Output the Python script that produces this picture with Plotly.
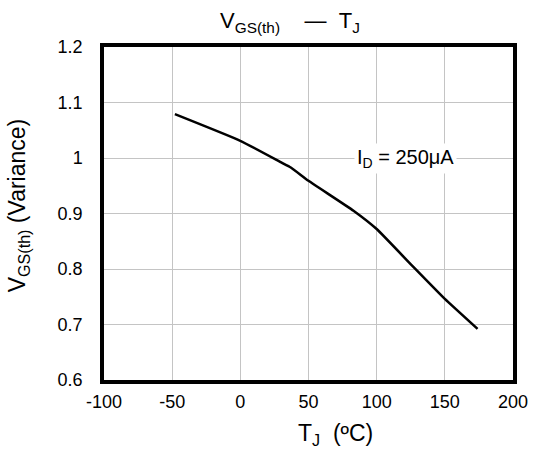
import plotly.graph_objects as go

tj = [-48, 0, 30, 37, 50, 83, 100, 126, 150, 174]
vgs = [1.079, 1.031, 0.992, 0.983, 0.959, 0.905, 0.872, 0.806, 0.746, 0.692]
x_ticks = [-100, -50, 0, 50, 100, 150, 200]
x_ticktext = ["-100", "-50", "0", "50", "100", "150", "200"]
y_ticks = [0.6, 0.7, 0.8, 0.9, 1.0, 1.1, 1.2]
y_ticktext = ["0.6", "0.7", "0.8", "0.9", "1", "1.1", "1.2"]

font = "Liberation Sans, Arial, sans-serif"

fig = go.Figure()
fig.add_trace(go.Scatter(x=tj, y=vgs, mode="lines",
                         line=dict(color="black", width=2.5, shape="spline", smoothing=0.4),
                         showlegend=False))

fig.add_annotation(x=121, y=1.0, text="I<sub>D</sub> = 250μA", showarrow=False,
                   font=dict(family=font, size=20, color="black"), bgcolor="white", borderpad=2)

# axis titles as annotations (reference places them off-centre)
fig.add_annotation(xref="paper", yref="paper", x=0.566, y=-0.165, yanchor="middle",
                   text="T<sub>J</sub>  (ºC)", showarrow=False,
                   font=dict(family=font, size=23, color="black"))
fig.add_annotation(xref="paper", yref="paper", x=-0.21, y=0.525, xanchor="center", yanchor="middle",
                   text="V<sub>GS(th)</sub> (Variance)", showarrow=False, textangle=-90,
                   font=dict(family=font, size=23, color="black"))

fig.update_layout(
    width=540, height=456,
    margin=dict(l=104, r=24, t=47, b=76),
    paper_bgcolor="white", plot_bgcolor="white",
    font=dict(family=font, size=18, color="black"),
    title=dict(text="V<sub>GS(th)</sub>&nbsp;&nbsp;&nbsp; —&nbsp;&nbsp;T<sub>J</sub>", x=0.537, xanchor="center",
               y=0.955, yanchor="middle",
               font=dict(family=font, size=22, color="black")),
)
fig.update_xaxes(range=[-100, 200], tickvals=x_ticks, ticktext=x_ticktext,
                 showgrid=True, gridcolor="#c4c4c4", gridwidth=1, zeroline=False,
                 showline=True, linecolor="black", linewidth=3.5, mirror=True,
                 ticks="", ticklabelstandoff=3)
fig.update_yaxes(range=[0.6, 1.2], tickvals=y_ticks, ticktext=y_ticktext,
                 showgrid=True, gridcolor="#c4c4c4", gridwidth=1, zeroline=False,
                 showline=True, linecolor="black", linewidth=3.5, mirror=True,
                 ticks="", ticklabelstandoff=14)

fig.write_html("out.html", config={"displayModeBar": False},
               post_script="document.body.style.margin='0px';")
